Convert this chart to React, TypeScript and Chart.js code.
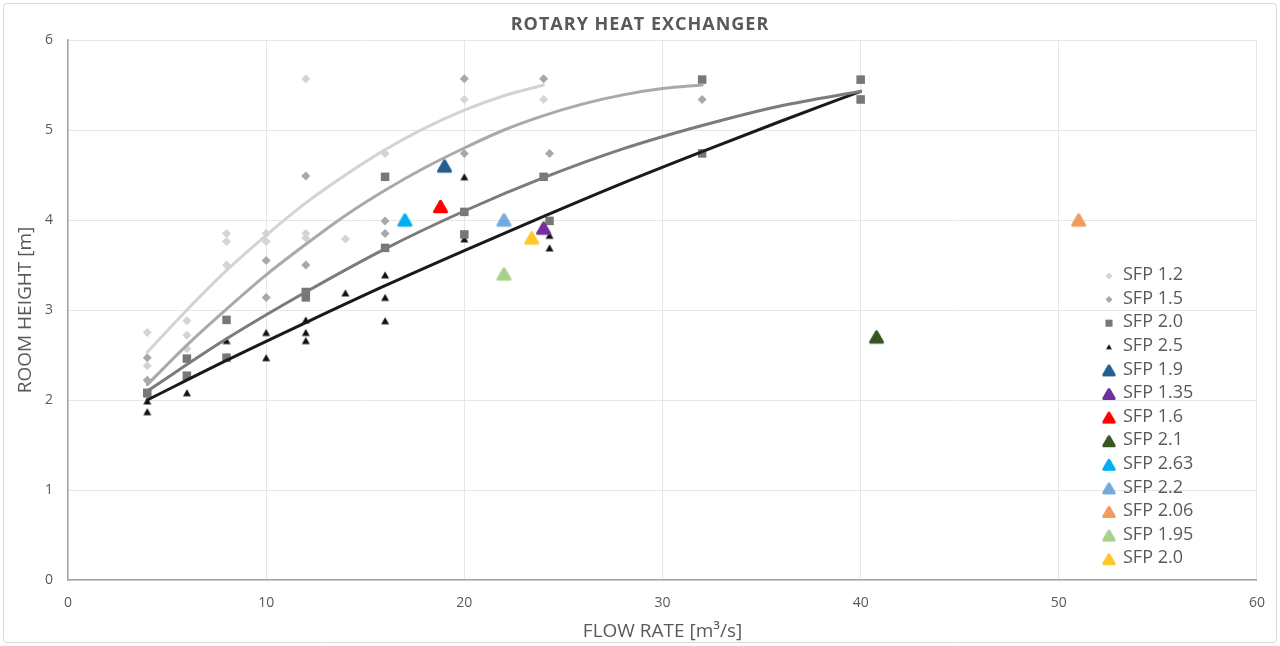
import React, { useEffect, useRef } from 'react';
import { Chart, registerables } from 'chart.js';
import { drawPoint } from 'chart.js/helpers';

Chart.register(...registerables);

// ---- Data ----
const sfp12X = [4, 4, 6, 6, 6, 8, 8, 8, 10, 10, 12, 12, 12, 14, 16, 20, 24];
const sfp12Y = [2.75, 2.38, 2.88, 2.72, 2.57, 3.85, 3.76, 3.5, 3.85, 3.76, 5.57, 3.85, 3.8, 3.79, 4.74, 5.34, 5.34];

const sfp15X = [4, 4, 10, 10, 12, 12, 16, 16, 20, 20, 24, 24.3, 32];
const sfp15Y = [2.47, 2.22, 3.55, 3.14, 4.49, 3.5, 3.99, 3.85, 5.57, 4.74, 5.57, 4.74, 5.34];

const sfp20X = [4, 6, 6, 8, 8, 12, 12, 16, 16, 20, 20, 24, 24.3, 32, 32, 40, 40];
const sfp20Y = [2.08, 2.46, 2.27, 2.89, 2.47, 3.2, 3.14, 4.48, 3.69, 4.09, 3.84, 4.48, 3.99, 5.56, 4.74, 5.56, 5.34];

const sfp25X = [4, 4, 4, 6, 6, 8, 8, 10, 10, 12, 12, 12, 14, 16, 16, 16, 20, 20, 24.3, 24.3, 40, 40];
const sfp25Y = [2.07, 1.99, 1.87, 2.27, 2.08, 2.66, 2.48, 2.75, 2.47, 2.89, 2.75, 2.66, 3.19, 3.39, 3.14, 2.88, 4.48, 3.79, 3.83, 3.69, 5.56, 5.34];

const singleLabels = ['SFP 1.9', 'SFP 1.35', 'SFP 1.6', 'SFP 2.1', 'SFP 2.63', 'SFP 2.2', 'SFP 2.06', 'SFP 1.95', 'SFP 2.0'];
const singleX = [19, 24, 18.8, 40.8, 17, 22, 51, 22, 23.4];
const singleY = [4.6, 3.91, 4.15, 2.7, 4.0, 4.0, 4.0, 3.4, 3.8];
const singleColors = ['#255e91', '#7030a0', '#ff0000', '#375623', '#00b0f0', '#74aadd', '#f29a60', '#a9d18e', '#ffc729'];

// trendlines (polynomial)
const trend12X = [4, 6, 8, 10, 12, 14, 16, 18, 20, 22, 24];
const trend12Y = [2.53, 3.0, 3.44, 3.83, 4.19, 4.5, 4.78, 5.02, 5.22, 5.38, 5.5];
const trend15X = [4, 6, 8, 10, 12, 14, 16, 18, 20, 22, 24, 26, 28, 30, 32];
const trend15Y = [2.17, 2.61, 3.01, 3.39, 3.73, 4.05, 4.33, 4.58, 4.8, 5.0, 5.16, 5.29, 5.39, 5.46, 5.5];
const trend20X = [4, 8, 12, 16, 20, 24, 28, 32, 36, 40];
const trend20Y = [2.1, 2.68, 3.2, 3.68, 4.1, 4.47, 4.79, 5.05, 5.27, 5.43];
const trend25X = [4, 8, 12, 16, 20, 24, 28, 32, 36, 40];
const trend25Y = [2.0, 2.44, 2.86, 3.27, 3.66, 4.04, 4.41, 4.76, 5.1, 5.43];

const xTicks = [0, 10, 20, 30, 40, 50, 60];
const yTicks = [0, 1, 2, 3, 4, 5, 6];

const TEXT = '#595959';
const FONT = '"Open Sans", "Noto Sans", sans-serif';

const pts = (xs: number[], ys: number[]) => xs.map((x, i) => ({ x, y: ys[i] }));

// Triangle marker centred on its bounding box (as Excel does)
function makeTri(color: string, w: number, h: number, lw: number) {
  const size = Math.ceil(Math.max(w, h) + lw + 2);
  const c = document.createElement('canvas');
  c.width = size;
  c.height = size;
  const g = c.getContext('2d')!;
  const cx = size / 2;
  const cy = size / 2;
  g.fillStyle = color;
  g.strokeStyle = color;
  g.lineWidth = lw;
  g.lineJoin = 'round';
  g.beginPath();
  g.moveTo(cx, cy - h / 2);
  g.lineTo(cx + w / 2, cy + h / 2);
  g.lineTo(cx - w / 2, cy + h / 2);
  g.closePath();
  g.fill();
  if (lw > 0) g.stroke();
  return c;
}

const framePlugin = {
  id: 'frame',
  beforeDraw(chart: any) {
    const ctx = chart.ctx;
    ctx.save();
    ctx.fillStyle = '#ffffff';
    ctx.fillRect(0, 0, chart.width, chart.height);
    ctx.strokeStyle = '#d9d9d9';
    ctx.lineWidth = 1;
    ctx.beginPath();
    ctx.roundRect(3.5, 3.5, chart.width - 7, chart.height - 7, 3);
    ctx.stroke();
    ctx.fillStyle = TEXT;
    ctx.font = `bold 18px ${FONT}`;
    try { (ctx as any).letterSpacing = '1px'; } catch (e) {}
    ctx.textAlign = 'center';
    ctx.textBaseline = 'middle';
    ctx.fillText('ROTARY HEAT EXCHANGER', chart.width / 2, 25);
    ctx.restore();
  },
};

const legendPlugin = {
  id: 'insideLegend',
  afterDraw(chart: any) {
    const ctx = chart.ctx;
    const { right } = chart.chartArea;
    const items = chart.data.datasets.filter((d: any) => d.inLegend);
    ctx.save();
    ctx.font = `18px ${FONT}`;
    ctx.textBaseline = 'middle';
    ctx.textAlign = 'left';
    items.forEach((d: any, i: number) => {
      const y = 275 + i * 23.6;
      const mx = right - 148;
      ctx.fillStyle = d.backgroundColor;
      ctx.strokeStyle = d.borderColor;
      ctx.lineWidth = 0;
      drawPoint(ctx, { pointStyle: d.legendStyle || d.pointStyle, radius: d.legendRadius, borderWidth: 0, rotation: 0 } as any, mx, y + 1);
      ctx.fillStyle = TEXT;
      ctx.fillText(d.label, right - 134, y);
    });
    ctx.restore();
  },
};

export default function App() {
  const ref = useRef<HTMLCanvasElement>(null);

  useEffect(() => {
    document.body.style.margin = '0';
    if (!ref.current) return;

    const blackTri = makeTri('#111111', 8, 7, 0);
    const blackTriSmall = makeTri('#111111', 6, 5, 0);

    const grayDatasets: any[] = [
      { label: 'SFP 1.2', data: pts(sfp12X, sfp12Y), pointStyle: 'rectRot', pointRadius: 4.5, backgroundColor: '#d4d4d4', borderColor: '#d4d4d4', borderWidth: 0, legendRadius: 3.5 },
      { label: 'SFP 1.5', data: pts(sfp15X, sfp15Y), pointStyle: 'rectRot', pointRadius: 4.5, backgroundColor: '#a8a8a8', borderColor: '#a8a8a8', borderWidth: 0, legendRadius: 3.5 },
      { label: 'SFP 2.0', data: pts(sfp20X, sfp20Y), pointStyle: 'rect', pointRadius: 6, backgroundColor: '#777777', borderColor: '#777777', borderWidth: 0, legendRadius: 5 },
      { label: 'SFP 2.5', data: pts(sfp25X, sfp25Y), pointStyle: blackTri, legendStyle: blackTriSmall, pointRadius: 4.5, backgroundColor: '#111111', borderColor: '#111111', borderWidth: 0, legendRadius: 4 },
    ].map((d) => ({ ...d, inLegend: true, order: 3, showLine: false, pointHoverRadius: d.pointRadius }));

    const singleDatasets: any[] = singleLabels.map((label, i) => ({
      label,
      data: [{ x: singleX[i], y: singleY[i] }],
      pointStyle: makeTri(singleColors[i], 12, 10.4, 3),
      legendStyle: makeTri(singleColors[i], 10.5, 9, 3),
      pointRadius: 7,
      pointHoverRadius: 7,
      backgroundColor: singleColors[i],
      borderColor: singleColors[i],
      borderWidth: 0,
      inLegend: true,
      legendRadius: 6,
      order: 0,
      showLine: false,
    }));

    const trend = (xs: number[], ys: number[], color: string) => ({
      label: '',
      data: pts(xs, ys),
      showLine: true,
      borderColor: color,
      backgroundColor: color,
      borderWidth: 3,
      pointRadius: 0,
      pointHoverRadius: 0,
      cubicInterpolationMode: 'monotone',
      tension: 0.4,
      order: 1,
      inLegend: false,
      borderCapStyle: 'round',
    });

    const trendDatasets: any[] = [
      trend(trend12X, trend12Y, '#d3d3d3'),
      trend(trend15X, trend15Y, '#a9a9a9'),
      trend(trend20X, trend20Y, '#7b7b7b'),
      trend(trend25X, trend25Y, '#1a1a1a'),
    ];

    const chart = new Chart(ref.current, {
      type: 'scatter',
      data: { datasets: [...grayDatasets, ...singleDatasets, ...trendDatasets] },
      options: {
        responsive: false,
        animation: false,
        events: [],
        layout: { padding: { top: 40, right: 21, left: 0, bottom: 0 } },
        plugins: {
          legend: { display: false },
          title: { display: false },
          tooltip: { enabled: false },
        },
        scales: {
          x: {
            type: 'linear',
            min: 0,
            max: 60,
            afterBuildTicks: (s: any) => { s.ticks = xTicks.map((v) => ({ value: v })); },
            afterFit: (s: any) => { s.height = 66; },
            grid: { color: '#e6e6e6', lineWidth: 1, drawTicks: false },
            border: { color: '#a6a6a6', width: 1.5 },
            ticks: { color: TEXT, font: { family: FONT, size: 14 }, padding: 15 },
            title: { display: true, text: 'FLOW RATE [m³/s]', color: TEXT, font: { family: FONT, size: 19 }, padding: { top: 0, bottom: 3 } },
          },
          y: {
            type: 'linear',
            min: 0,
            max: 6,
            afterBuildTicks: (s: any) => { s.ticks = yTicks.map((v) => ({ value: v })); },
            afterFit: (s: any) => { s.width = 68; },
            grid: { color: '#e6e6e6', lineWidth: 1, drawTicks: false },
            border: { color: '#a6a6a6', width: 1.5 },
            ticks: { color: TEXT, font: { family: FONT, size: 14 }, padding: 15 },
            title: { display: true, text: 'ROOM HEIGHT [m]', color: TEXT, font: { family: FONT, size: 19 }, padding: { top: 14, bottom: 0 } },
          },
        },
      } as any,
      plugins: [framePlugin, legendPlugin],
    });

    return () => chart.destroy();
  }, []);

  return (
    <div style={{ width: 1280, height: 646, position: 'relative' }}>
      <canvas ref={ref} width={1280} height={646} />
    </div>
  );
}
